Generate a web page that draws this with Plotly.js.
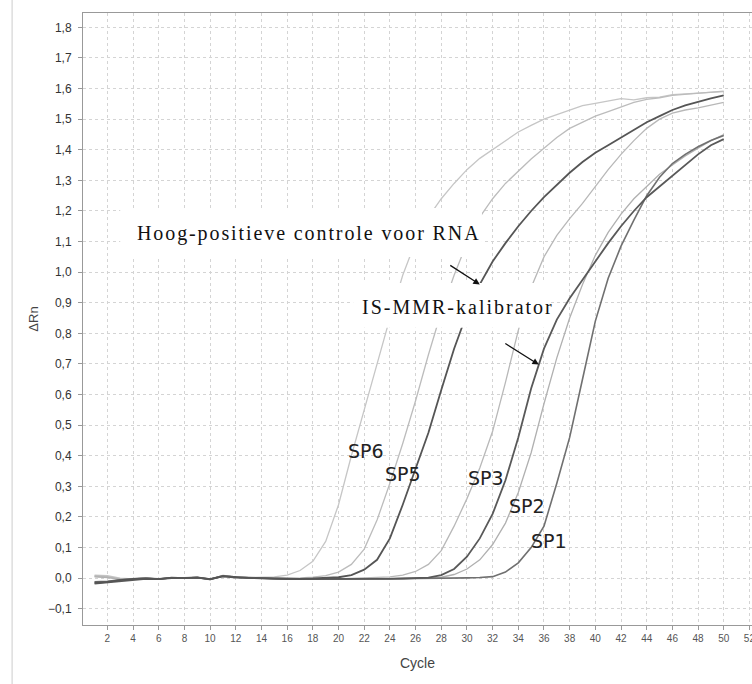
<!DOCTYPE html>
<html><head><meta charset="utf-8">
<script src="https://cdn.plot.ly/plotly-3.0.1.min.js"></script>
<style>
html,body{margin:0;padding:0;background:#fff;overflow:hidden}
.annotation-text[data-unformatted="Hoog-positieve controle voor RNA"]{letter-spacing:1.9px}
.annotation-text[data-unformatted="IS-MMR-kalibrator"]{letter-spacing:2px}
</style>
</head><body><div id="chart" style="width:752px;height:684px"></div>
<script>
const cycles = [1,2,3,4,5,6,7,8,9,10,11,12,13,14,15,16,17,18,19,20,21,22,23,24,25,26,27,28,29,30,31,32,33,34,35,36,37,38,39,40,41,42,43,44,45,46,47,48,49,50];

const sp6 = [0.010,0.008,0.000,-0.002,0.001,-0.002,0.002,0.001,0.003,-0.003,0.009,0.004,0.002,0.002,0.004,0.010,0.025,0.055,0.120,0.240,0.400,0.550,0.700,0.850,0.990,1.100,1.180,1.240,1.290,1.335,1.372,1.400,1.430,1.458,1.480,1.500,1.515,1.530,1.544,1.552,1.560,1.567,1.563,1.570,1.572,1.580,1.583,1.585,1.588,1.590];
const sp5 = [0.008,0.005,-0.002,-0.003,0.000,-0.004,0.001,0.000,0.002,-0.005,0.008,0.003,0.001,0.000,-0.001,0.000,0.001,0.003,0.008,0.020,0.045,0.095,0.190,0.310,0.440,0.580,0.730,0.870,0.990,1.095,1.180,1.240,1.290,1.330,1.370,1.405,1.440,1.470,1.490,1.510,1.525,1.540,1.555,1.565,1.570,1.578,1.582,1.586,1.588,1.592];
const ctrlRNA = [-0.015,-0.012,-0.006,-0.002,-0.001,-0.003,0.002,0.000,0.002,-0.004,0.007,0.003,0.001,0.000,-0.001,-0.002,-0.002,-0.001,0.000,0.003,0.010,0.028,0.060,0.130,0.240,0.360,0.475,0.615,0.750,0.865,0.960,1.035,1.095,1.150,1.200,1.245,1.285,1.325,1.360,1.390,1.415,1.440,1.465,1.490,1.510,1.530,1.545,1.557,1.568,1.578];
const sp3 = [0.006,0.004,-0.003,-0.002,0.001,-0.003,0.002,0.001,0.002,-0.004,0.009,0.004,0.002,0.001,0.000,-0.001,-0.002,-0.002,-0.003,-0.002,-0.001,0.000,0.002,0.004,0.010,0.022,0.045,0.090,0.170,0.260,0.360,0.480,0.640,0.810,0.950,1.050,1.120,1.175,1.225,1.280,1.335,1.385,1.430,1.470,1.500,1.520,1.530,1.537,1.547,1.555];
const kalibrator = [-0.018,-0.014,-0.008,-0.004,-0.002,-0.003,0.000,0.000,0.002,-0.003,0.006,0.002,0.000,-0.001,-0.002,-0.003,-0.003,-0.003,-0.004,-0.004,-0.003,-0.003,-0.002,-0.002,-0.001,0.000,0.002,0.010,0.030,0.070,0.130,0.210,0.320,0.460,0.620,0.750,0.845,0.915,0.975,1.035,1.095,1.150,1.200,1.245,1.280,1.315,1.350,1.385,1.415,1.435];
const sp2 = [0.004,0.002,-0.004,-0.003,0.000,-0.003,0.001,0.000,0.002,-0.004,0.008,0.003,0.001,0.000,-0.001,-0.002,-0.002,-0.003,-0.003,-0.003,-0.002,-0.002,-0.001,-0.001,0.000,0.000,0.001,0.003,0.012,0.030,0.060,0.110,0.180,0.280,0.410,0.570,0.720,0.850,0.960,1.055,1.130,1.190,1.240,1.280,1.320,1.350,1.380,1.405,1.430,1.450];
const sp1 = [-0.012,-0.010,-0.005,-0.002,0.000,-0.002,0.001,0.001,0.003,-0.003,0.008,0.003,0.001,0.000,-0.001,-0.002,-0.002,-0.003,-0.003,-0.004,-0.004,-0.003,-0.003,-0.002,-0.002,-0.001,-0.001,0.000,0.000,0.001,0.002,0.005,0.020,0.050,0.100,0.170,0.310,0.460,0.650,0.840,0.980,1.085,1.170,1.250,1.310,1.355,1.385,1.410,1.430,1.447];

const xTickVals = [2,4,6,8,10,12,14,16,18,20,22,24,26,28,30,32,34,36,38,40,42,44,46,48,50,52];
const spLabels = ['SP6','SP5','SP3','SP2','SP1'];
const ctrlLabel = 'Hoog-positieve controle voor RNA';
const kalLabel = 'IS-MMR-kalibrator';

function tr(name, y, color, width) {
  return {x: cycles, y: y, type: 'scatter', mode: 'lines', name: name,
    line: {color: color, width: width}, hoverinfo: 'skip', showlegend: false};
}
const data = [
  tr('SP6', sp6, '#c6c6c6', 1.3),
  tr('SP5', sp5, '#bcbcbc', 1.3),
  tr('SP3', sp3, '#b8b8b8', 1.3),
  tr('SP2', sp2, '#b0b0b0', 1.3),
  tr('SP1', sp1, '#707070', 1.6),
  tr(kalLabel, kalibrator, '#595959', 1.8),
  tr(ctrlLabel, ctrlRNA, '#555555', 1.8)
];

function interp(arr, c) {
  const i = Math.floor(c) - 1, f = c - Math.floor(c);
  return arr[i] + f * (arr[i + 1] - arr[i]);
}

const labelFont = {family: 'DejaVu Sans, sans-serif', size: 19, color: '#222'};
const serifFont = {family: 'Liberation Serif, Times New Roman, serif', size: 20, color: '#111'};
const spPos = [[22.15,0.416],[25.03,0.341],[31.49,0.327],[34.69,0.236],[36.40,0.122]];

const annotations = spLabels.map((t, i) => ({
  text: t, x: spPos[i][0], y: spPos[i][1], xref: 'x', yref: 'y',
  showarrow: false, font: labelFont, xanchor: 'center', yanchor: 'middle'
}));
annotations.push({text: ctrlLabel, x: 17.71, y: 1.128, xref: 'x', yref: 'y',
  showarrow: false, font: serifFont, xanchor: 'center', yanchor: 'middle'});
annotations.push({text: kalLabel, x: 29.31, y: 0.887, xref: 'x', yref: 'y',
  showarrow: false, font: serifFont, xanchor: 'center', yanchor: 'middle'});
annotations.push({text: '', x: 31, y: interp(ctrlRNA, 31), xref: 'x', yref: 'y',
  showarrow: true, ax: -31, ay: -20, arrowhead: 2, arrowsize: 1, arrowwidth: 1.3, arrowcolor: '#111', standoff: 0});
annotations.push({text: '', x: 35.6, y: interp(kalibrator, 35.6), xref: 'x', yref: 'y',
  showarrow: true, ax: -35, ay: -22, arrowhead: 2, arrowsize: 1, arrowwidth: 1.3, arrowcolor: '#111', standoff: 0});

const shapes = [
  {type: 'rect', xref: 'x', yref: 'y', x0: 3.0, x1: 31.17, y0: 1.050, y1: 1.210,
   fillcolor: '#ffffff', line: {width: 0}, layer: 'above'},
  {type: 'rect', xref: 'x', yref: 'y', x0: 21.14, x1: 36.48, y0: 0.818, y1: 0.965,
   fillcolor: '#ffffff', line: {width: 0}, layer: 'above'},
  {type: 'line', xref: 'paper', yref: 'paper', x0: -0.106, x1: -0.106, y0: -0.1, y1: 1.03,
   line: {color: '#cccccc', width: 1}, layer: 'above'}
];

const layout = {
  width: 752, height: 684,
  margin: {l: 83, r: 0, t: 13, b: 59},
  paper_bgcolor: '#ffffff', plot_bgcolor: '#ffffff',
  separators: ',.',
  showlegend: false,
  xaxis: {
    range: [0.1, 52.2], tickvals: xTickVals, ticks: 'outside', ticklen: 4, tickcolor: '#999',
    ticklabeloverflow: 'allow',
    showgrid: true, gridcolor: '#d4d4d4', griddash: '3px,3px', gridwidth: 1, zeroline: false,
    showline: true, linecolor: '#999', linewidth: 1, mirror: true,
    tickfont: {family: 'Liberation Sans Narrow, Arial Narrow, Liberation Sans, sans-serif', size: 10, color: '#555'},
    title: {text: 'Cycle', font: {family: 'Liberation Sans Narrow, Liberation Sans, Arial, sans-serif', size: 14, color: '#444'}, standoff: 15}
  },
  yaxis: {
    range: [-0.153, 1.847], dtick: 0.1, tick0: 0, tickformat: '.1f', ticks: 'outside', ticklen: 4, tickcolor: '#999',
    ticklabelstandoff: 4,
    showgrid: true, gridcolor: '#d4d4d4', griddash: '3px,3px', gridwidth: 1, zeroline: false,
    showline: true, linecolor: '#999', linewidth: 1,
    tickfont: {family: 'Liberation Sans, Arial, sans-serif', size: 12, color: '#333'},
    title: {text: 'ΔRn', font: {family: 'Liberation Sans, Arial, sans-serif', size: 13, color: '#444'}, standoff: 6}
  },
  annotations: annotations,
  shapes: shapes
};

Plotly.newPlot('chart', data, layout, {displayModeBar: false, staticPlot: true});
</script>
</body></html>
